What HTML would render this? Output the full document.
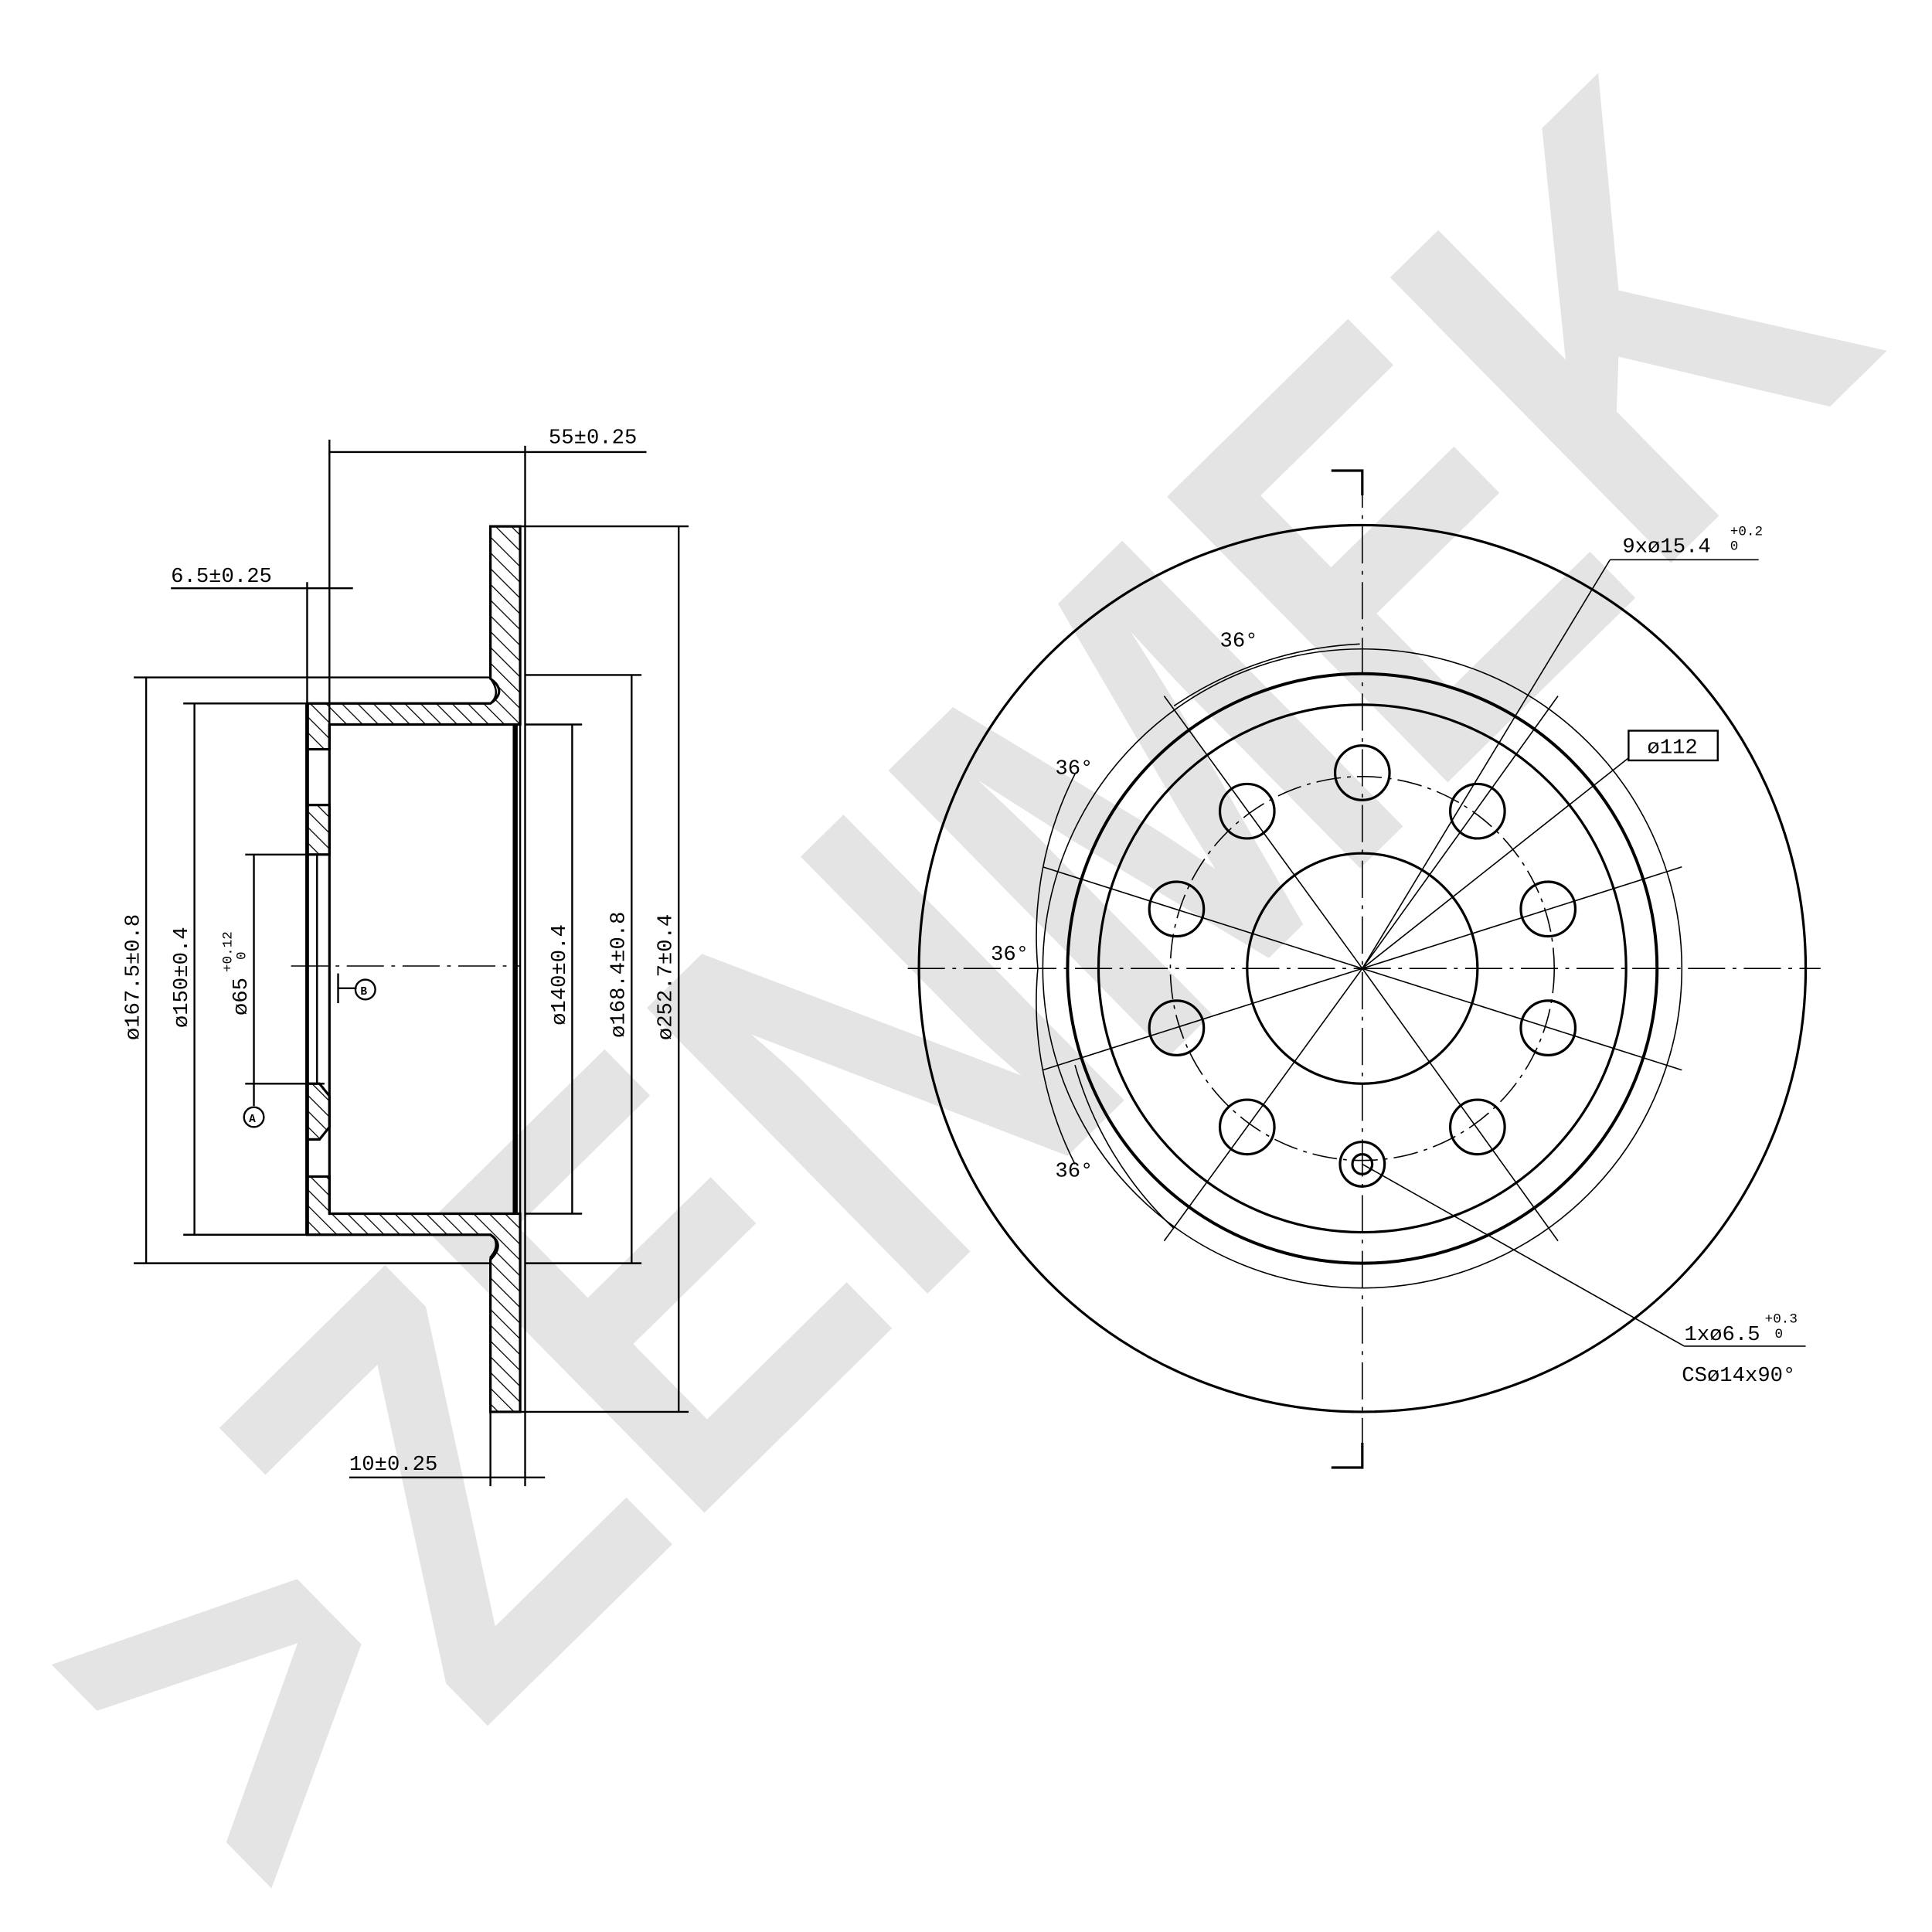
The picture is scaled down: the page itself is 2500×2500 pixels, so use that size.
<!DOCTYPE html>
<html><head><style>html,body{margin:0;padding:0;background:#fff}svg{display:block}</style></head><body>
<svg width="2500" height="2500" viewBox="0 0 1560 1560" xmlns="http://www.w3.org/2000/svg" font-family="Liberation Mono, monospace">
<defs>
<pattern id="h" patternUnits="userSpaceOnUse" width="9" height="9" patternTransform="rotate(-45)">
<rect width="9" height="9" fill="#fff"/><line x1="0" y1="0" x2="0" y2="9" stroke="#000" stroke-width="1.6"/></pattern>
</defs>
<rect width="1560" height="1560" fill="#fff"/>
<g transform="translate(790,830) rotate(-44.5)">
<text x="0" y="0" font-family="Liberation Sans, sans-serif" font-weight="bold" font-size="470" fill="#e4e4e4" text-anchor="middle" dominant-baseline="middle" textLength="1820" lengthAdjust="spacingAndGlyphs">&gt;ZENMEK</text>
</g>
<g stroke="#000" fill="none" stroke-width="1.5">
<path d="M396,425 H420 V1140 H396 V1015 Q405,1005 396,995 H266 V980 H420 M396,425 V548 Q405,560 396,568 H248 V997 H396" fill="none"/>
<path d="M396,425 H420 V585 H266 V605 H248 V568 H396 Q410,558 396,548 Z" fill="url(#h)" stroke-width="2"/>
<path d="M266,980 H420 V1140 H396 V1017 Q408,1005 396,997 H248 V950 H266 Z" fill="url(#h)" stroke-width="2"/>
<rect x="248" y="650" width="18" height="40" fill="url(#h)" stroke-width="2"/>
<path d="M248,875 H258 L266,885 V910 L258,920 H248 Z" fill="url(#h)" stroke-width="2"/>
<line x1="248" y1="568" x2="248" y2="997" stroke-width="3"/>
<line x1="266" y1="585" x2="266" y2="980" stroke-width="2"/>
<line x1="256" y1="690" x2="256" y2="875" stroke-width="1.5"/>
<line x1="416" y1="585" x2="416" y2="980" stroke-width="4"/>
<line x1="424" y1="360" x2="424" y2="1200" stroke-width="1.5"/>
<line x1="235" y1="780" x2="420" y2="780" stroke-width="1" stroke-dasharray="30,6,3,6"/>
<line x1="273" y1="786" x2="273" y2="810"/><line x1="273" y1="798" x2="288" y2="798"/>
<circle cx="295" cy="799" r="8"/>
<line x1="205" y1="875" x2="205" y2="893"/><circle cx="205" cy="902" r="8"/>
<line x1="266" y1="355" x2="266" y2="690"/>
<line x1="248" y1="470" x2="248" y2="570"/>
<line x1="108" y1="547" x2="396" y2="547"/>
<line x1="108" y1="1020" x2="396" y2="1020"/>
<line x1="148" y1="568" x2="248" y2="568"/>
<line x1="148" y1="997" x2="248" y2="997"/>
<line x1="198" y1="690" x2="262" y2="690"/>
<line x1="198" y1="875" x2="262" y2="875"/>
<line x1="424" y1="585" x2="470" y2="585"/>
<line x1="424" y1="980" x2="470" y2="980"/>
<line x1="424" y1="545" x2="518" y2="545"/>
<line x1="424" y1="1020" x2="518" y2="1020"/>
<line x1="396" y1="425" x2="556" y2="425"/>
<line x1="420" y1="1140" x2="556" y2="1140"/>
<line x1="396" y1="1140" x2="396" y2="1200"/>
<line x1="118" y1="547" x2="118" y2="1020"/>
<line x1="157" y1="568" x2="157" y2="997"/>
<line x1="205" y1="690" x2="205" y2="875"/>
<line x1="462" y1="585" x2="462" y2="980"/>
<line x1="510" y1="545" x2="510" y2="1020"/>
<line x1="548" y1="425" x2="548" y2="1140"/>
<line x1="266" y1="365" x2="522" y2="365"/>
<line x1="138" y1="475" x2="285" y2="475"/>
<line x1="282" y1="1193" x2="440" y2="1193"/>
<circle cx="1100" cy="782" r="358" stroke-width="2"/>
<circle cx="1100" cy="782" r="238" stroke-width="2.5"/>
<circle cx="1100" cy="782" r="213" stroke-width="2"/>
<circle cx="1100" cy="782" r="93" stroke-width="2"/>
<circle cx="1100" cy="782" r="155" stroke-width="1" stroke-dasharray="20,5,3,5"/>
<circle cx="1100" cy="782" r="258" stroke-width="1"/>
<line x1="733" y1="782" x2="1470" y2="782" stroke-width="1" stroke-dasharray="30,6,3,6"/>
<line x1="1100" y1="380" x2="1100" y2="1180" stroke-width="1" stroke-dasharray="30,6,3,6"/>
<path d="M1075,380 H1100 V400 M1075,1185 H1100 V1165" stroke-width="2"/>
<g stroke-width="1">
<line x1="1100" y1="782" x2="940" y2="562"/>
<line x1="1100" y1="782" x2="842" y2="700"/>
<line x1="1100" y1="782" x2="842" y2="864"/>
<line x1="1100" y1="782" x2="940" y2="1002"/>
<line x1="1100" y1="782" x2="1258" y2="562"/>
<line x1="1100" y1="782" x2="1358" y2="700"/>
<line x1="1100" y1="782" x2="1358" y2="864"/>
<line x1="1100" y1="782" x2="1258" y2="1002"/>
<line x1="1100" y1="782" x2="1300" y2="452"/><line x1="1300" y1="452" x2="1420" y2="452"/>
<line x1="1100" y1="782" x2="1315" y2="612"/>
<line x1="1100" y1="940" x2="1360" y2="1087"/><line x1="1360" y1="1087" x2="1458" y2="1087"/>
<path d="M948,570 A290,290 0 0 1 1098,520"/>
<path d="M868,625 A290,290 0 0 0 838,782"/>
<path d="M838,782 A290,290 0 0 0 868,940"/>
<path d="M868,860 A290,290 0 0 0 948,992"/>
</g>
<rect x="1315" y="590" width="72" height="24" stroke-width="1.5"/>
</g>
<g stroke="#000" stroke-width="2" fill="none">
<circle cx="1100" cy="624" r="22"/>
<circle cx="1193" cy="655" r="22"/>
<circle cx="1250" cy="734" r="22"/>
<circle cx="1250" cy="830" r="22"/>
<circle cx="1193" cy="910" r="22"/>
<circle cx="1007" cy="910" r="22"/>
<circle cx="950" cy="830" r="22"/>
<circle cx="950" cy="734" r="22"/>
<circle cx="1007" cy="655" r="22"/>
<circle cx="1100" cy="940" r="18"/>
<circle cx="1100" cy="940" r="8"/>
</g>
<g font-size="17" fill="#000">
<text x="291" y="803" font-size="9" font-weight="bold">B</text>
<text x="201" y="906" font-size="9" font-weight="bold">A</text>
<text x="443" y="358">55±0.25</text>
<text x="138" y="470">6.5±0.25</text>
<text x="282" y="1187">10±0.25</text>
<text transform="translate(112,840) rotate(-90)">ø167.5±0.8</text>
<text transform="translate(151,830) rotate(-90)">ø150±0.4</text>
<text transform="translate(199,820) rotate(-90)">ø65</text>
<text transform="translate(187,785) rotate(-90)" font-size="11">+0.12</text>
<text transform="translate(198,775) rotate(-90)" font-size="11">0</text>
<text transform="translate(456,828) rotate(-90)">ø140±0.4</text>
<text transform="translate(504,838) rotate(-90)">ø168.4±0.8</text>
<text transform="translate(542,840) rotate(-90)">ø252.7±0.4</text>
<text x="1310" y="446">9xø15.4</text>
<text x="1397" y="432" font-size="11">+0.2</text>
<text x="1397" y="444" font-size="11">0</text>
<text x="1330" y="608">ø112</text>
<text x="985" y="522">36°</text>
<text x="852" y="625">36°</text>
<text x="800" y="775">36°</text>
<text x="852" y="950">36°</text>
<text x="1360" y="1082">1xø6.5</text>
<text x="1425" y="1068" font-size="11">+0.3</text>
<text x="1433" y="1080" font-size="11">0</text>
<text x="1358" y="1115">CSø14x90°</text>
</g>
</svg>
</body></html>
